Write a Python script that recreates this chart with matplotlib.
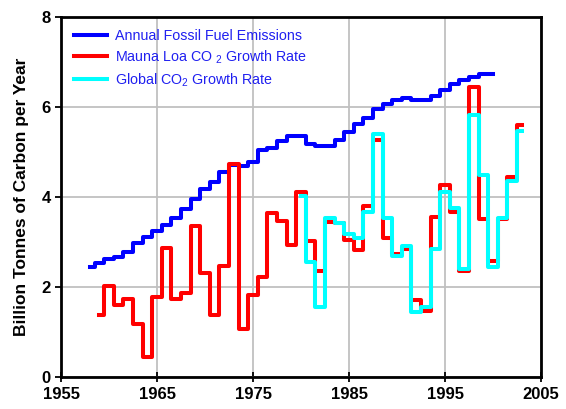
import matplotlib
matplotlib.use("Agg")
import matplotlib.pyplot as plt
import numpy as np

plt.rcParams['font.family'] = ['Liberation Sans', 'DejaVu Sans']
plt.rcParams['mathtext.fontset'] = 'custom'
plt.rcParams['mathtext.rm'] = 'Liberation Sans'
plt.rcParams['mathtext.default'] = 'regular'

ff_years = list(range(1958, 2001))
ff_vals = [2.45, 2.54, 2.63, 2.67, 2.78, 2.98, 3.10, 3.24, 3.38, 3.53,
           3.73, 3.95, 4.17, 4.33, 4.56, 4.70, 4.69, 4.77, 5.03, 5.08,
           5.25, 5.36, 5.36, 5.17, 5.12, 5.12, 5.27, 5.45, 5.61, 5.75,
           5.96, 6.06, 6.14, 6.19, 6.16, 6.16, 6.25, 6.38, 6.50, 6.60,
           6.67, 6.72, 6.72]

ml_years = list(range(1959, 2004))
ml_vals = [1.38, 2.01, 1.60, 1.73, 1.17, 0.45, 1.78, 2.86, 1.73, 1.87,
           3.36, 2.30, 1.38, 2.47, 4.73, 1.07, 1.82, 2.23, 3.65, 3.47,
           2.93, 4.10, 3.03, 2.36, 3.45, 3.43, 3.04, 2.82, 3.80, 5.27,
           3.08, 2.73, 2.84, 1.70, 1.47, 3.56, 4.26, 3.67, 2.36, 6.45,
           3.50, 2.58, 3.50, 4.45, 5.60]

gl_years = list(range(1980, 2004))
gl_vals = [4.01, 2.55, 1.56, 3.53, 3.43, 3.17, 3.08, 3.66, 5.39, 3.53,
           2.69, 2.90, 1.44, 1.55, 2.85, 4.10, 3.75, 2.39, 5.82, 4.49,
           2.45, 3.52, 4.36, 5.47]

xticks = [1955, 1965, 1975, 1985, 1995, 2005]
yticks = [0, 2, 4, 6, 8]

fig = plt.figure(figsize=(5.66, 4.09), dpi=100)
ax = fig.add_axes([61/566, 1-377/409, (541-61)/566, (377-16.7)/409])

lw = 2.9
ax.step(ff_years, ff_vals, where='mid', color='#0000FF', lw=lw,
        label='Annual Fossil Fuel Emissions', zorder=3)
ax.step(ml_years, ml_vals, where='mid', color='#FF0000', lw=lw,
        label='Mauna Loa CO $_2$ Growth Rate', zorder=4)
ax.step(gl_years, gl_vals, where='mid', color='#00FFFF', lw=lw,
        label='Global CO$_2$ Growth Rate', zorder=5)

ax.set_xlim(1955, 2005)
ax.set_ylim(0, 8)
ax.set_xticks(xticks)
ax.set_yticks(yticks)
ax.grid(True, color='#C0C0C0', lw=1.3, zorder=0)
for s in ax.spines.values():
    s.set_linewidth(2.0)
    s.set_zorder(6)
ax.tick_params(axis='y', direction='out', length=4, width=1.3)
ax.tick_params(axis='x', direction='inout', length=7, width=1.3)
for lab in ax.get_xticklabels() + ax.get_yticklabels():
    lab.set_fontsize(12)
    lab.set_fontweight('bold')
ax.set_ylabel('Billion Tonnes of Carbon per Year', fontsize=12.5,
              fontweight='bold', labelpad=9)

leg = ax.legend(loc='upper left', bbox_to_anchor=(0.01, 0.99),
                frameon=False, fontsize=10.3, handlelength=2.3,
                handletextpad=0.55, labelspacing=0.38, borderaxespad=0.2)
for t in leg.get_texts():
    t.set_color('#2020F0')

fig.savefig('out.png', dpi=100)
